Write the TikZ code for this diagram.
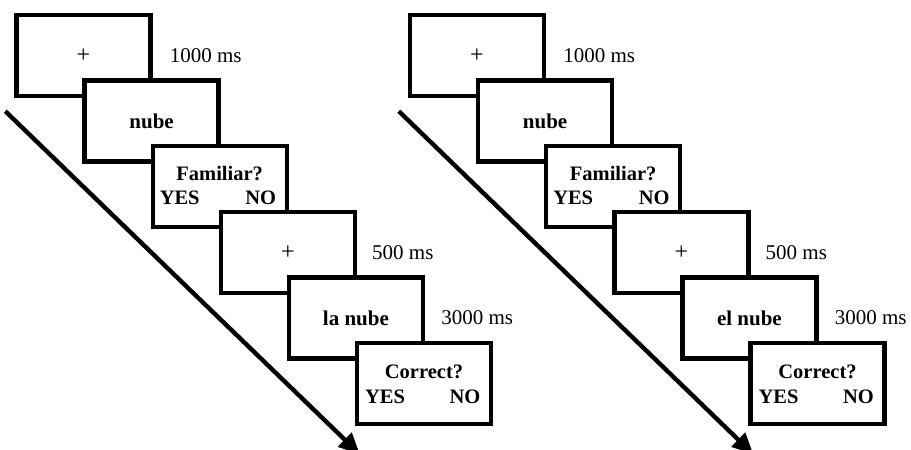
\documentclass[tikz,border=0pt]{standalone}
\usepackage{fontspec}
\setmainfont{Liberation Serif}
\usetikzlibrary{positioning,arrows.meta}

\begin{document}
\begin{tikzpicture}[%
  x=1pt, y=1pt,
  node distance=65.6pt and 68.1pt, on grid,
  screen/.style={rectangle, draw, line width=4.4pt, fill=white, inner sep=0pt,
    minimum width=134pt, minimum height=81pt,
    font=\fontsize{21}{24}\selectfont\bfseries},
  word/.style={inner sep=0pt, font=\fontsize{20.5}{24}\selectfont\bfseries},
  dur/.style={anchor=west, inner sep=0pt, font=\fontsize{21}{24}\selectfont},
  fix/.style={font=\fontsize{24}{26}\selectfont},
  timeline/.style={line width=4.4pt, -{Triangle[length=21pt, width=19pt]}},
  ]
  \useasboundingbox (0,0) rectangle (911,450);
  \foreach \p/\art/\dx in {L/la/0, R/el/393.5} {
    % screens of one trial
    \node[screen] (\p1) at (83.5+\dx, 394.5) {\mdseries\fontsize{24}{26}\selectfont +};
    \node[screen, below right=of \p1] (\p2) {nube};
    \node[screen, below right=of \p2] (\p3) {};
    \node[screen, below right=of \p3] (\p4) {\mdseries\fontsize{24}{26}\selectfont +};
    \node[screen, below right=of \p4] (\p5) {\art\ nube};
    \node[screen, below right=of \p5] (\p6) {};
    % questions and answers
    \node[word, above=13.5pt of \p3] (\p3q) {Familiar?};
    \node[word, below left=11.5pt and 40pt of \p3] (\p3y) {YES};
    \node[word, below right=11.5pt and 41pt of \p3] (\p3n) {NO};
    \node[word, above=12pt of \p6] (\p6q) {Correct?};
    \node[word, below left=13pt and 39pt of \p6] (\p6y) {YES};
    \node[word, below right=13pt and 41pt of \p6] (\p6n) {NO};
    % durations
    \node[right=17pt of \p1.east, dur] (\p1t) {1000 ms};
    \node[right=15pt of \p4.east, dur] (\p4t) {500 ms};
    \node[right=16pt of \p5.east, dur] (\p5t) {3000 ms};
    % time axis
    \coordinate[below left=13pt and 9pt of \p1.south west] (\p s);
    \coordinate[below right=28pt and 5pt of \p6.south west] (\p e);
    \draw[timeline] (\p s) -- (\p e);
  }
\end{tikzpicture}
\end{document}
